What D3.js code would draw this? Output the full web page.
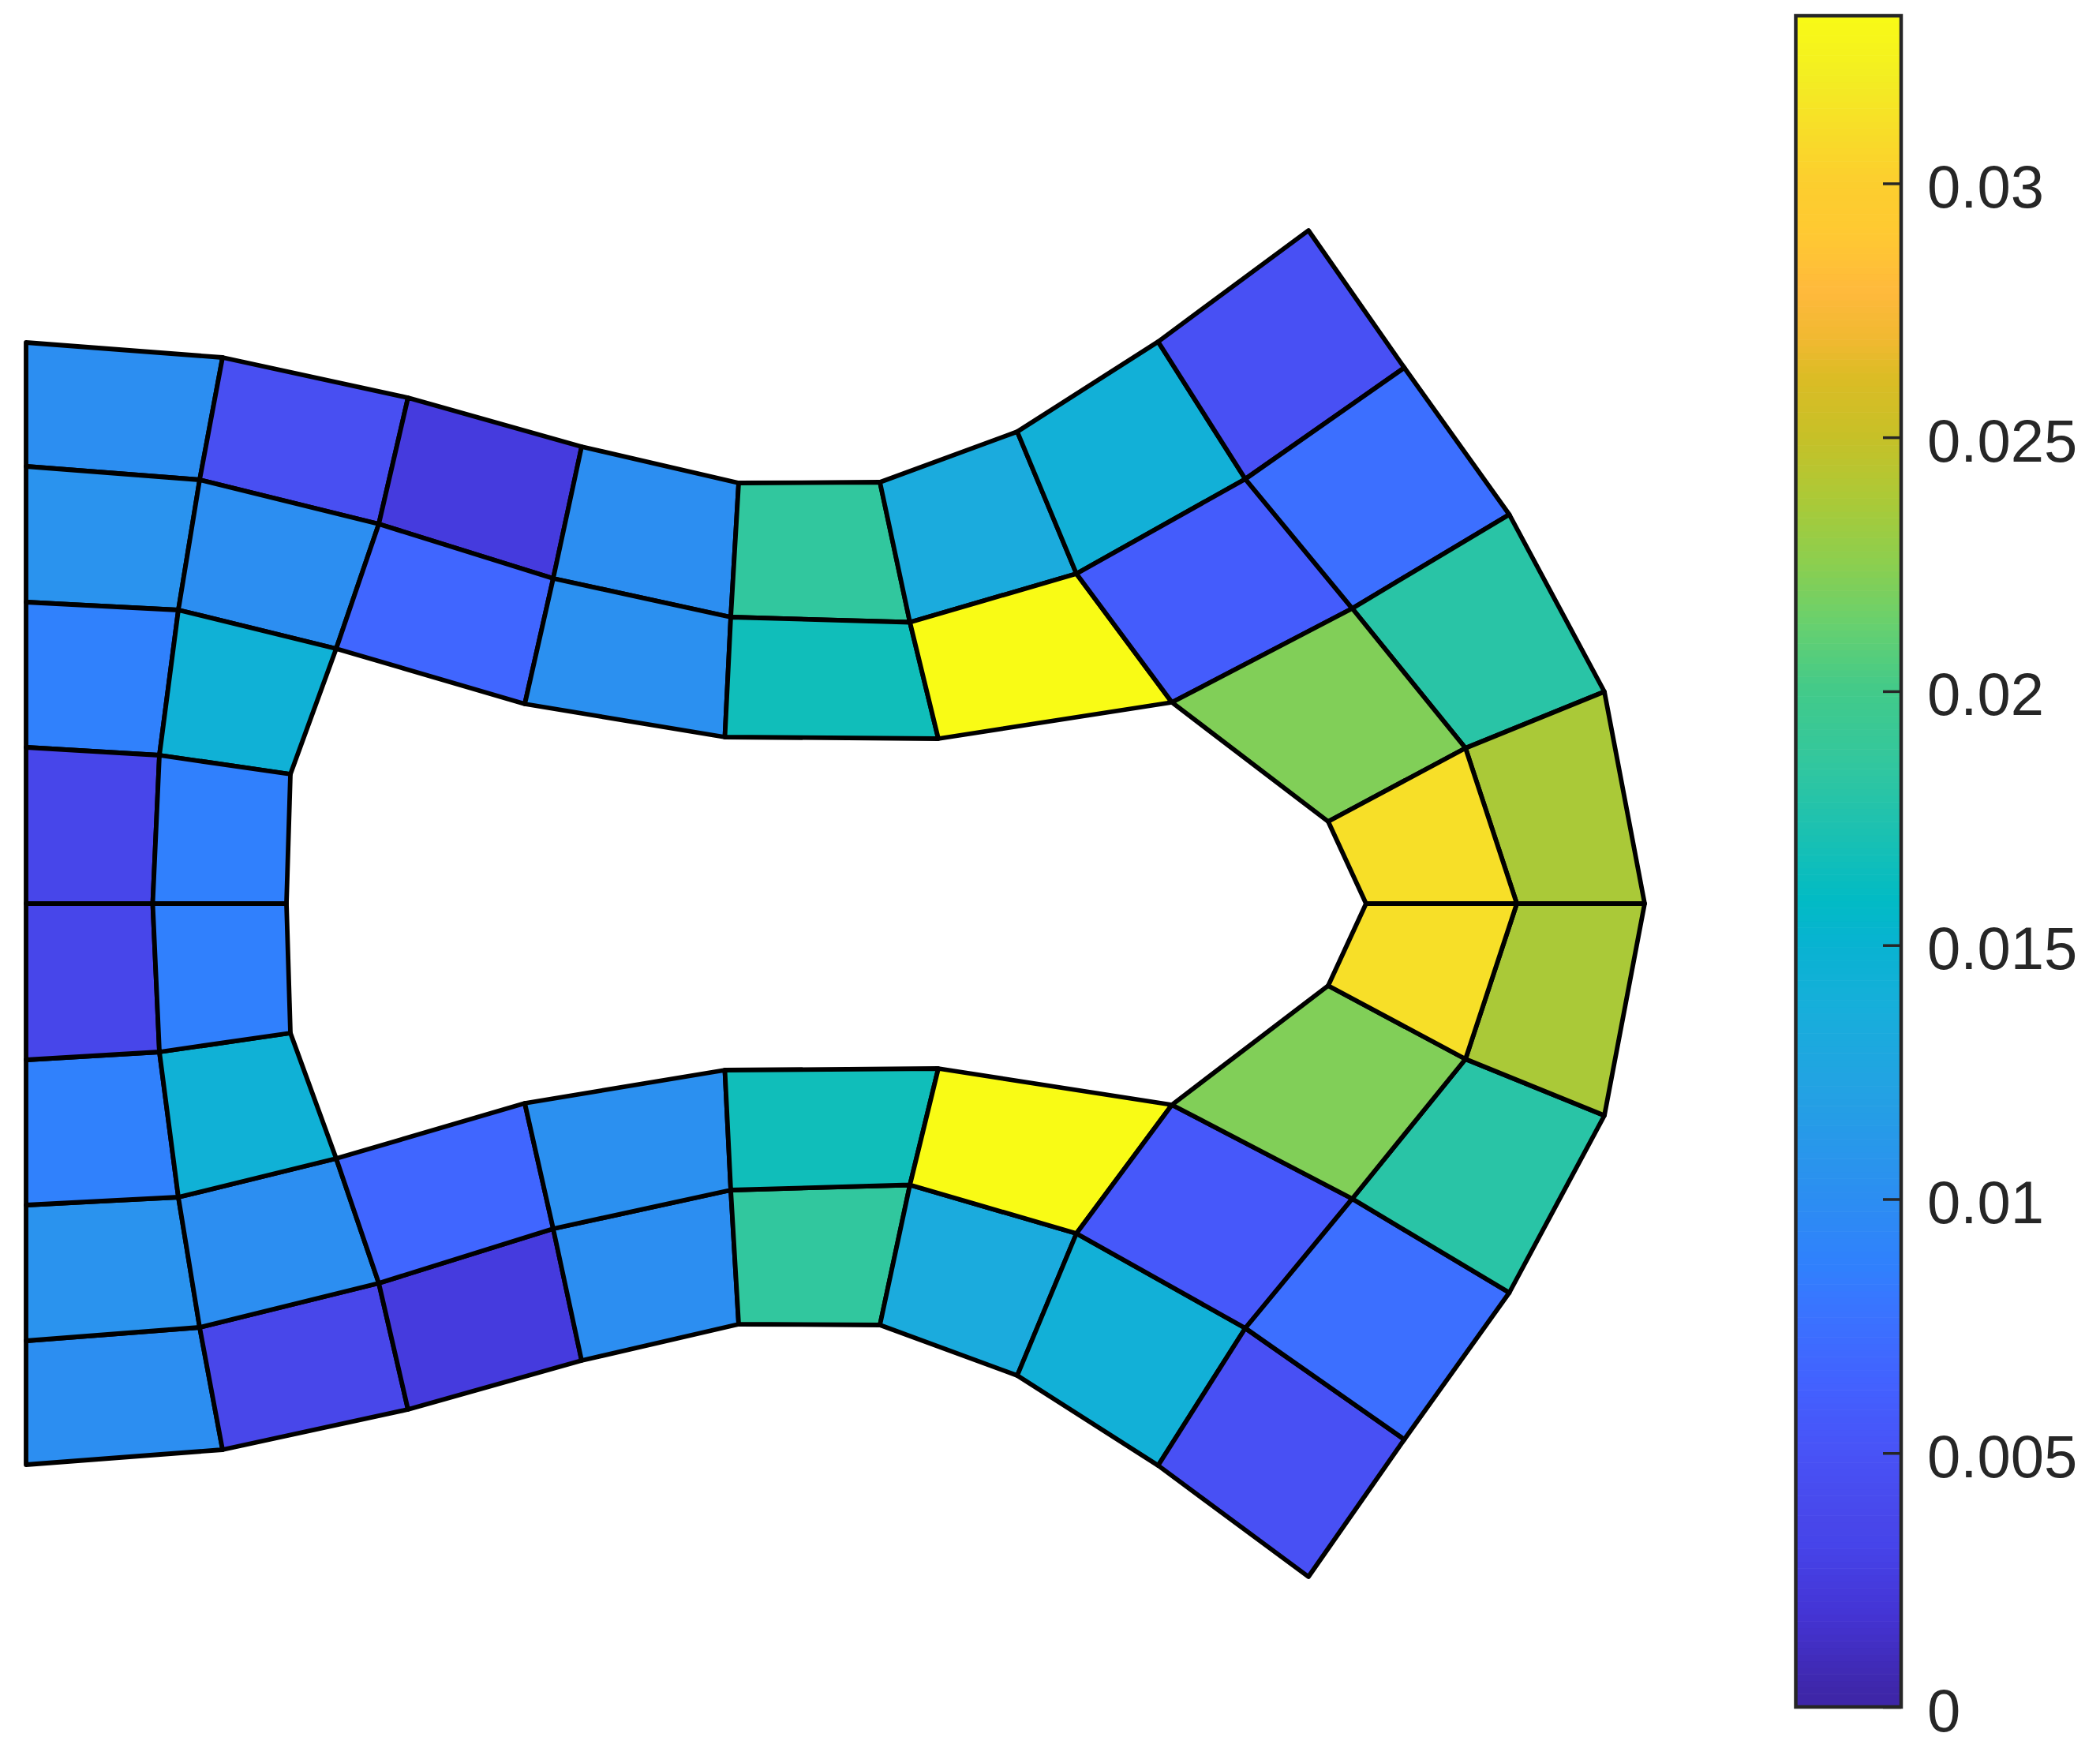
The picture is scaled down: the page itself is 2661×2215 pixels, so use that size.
<!DOCTYPE html>
<html><head><meta charset="utf-8">
<style>html,body{margin:0;padding:0;background:#fff}svg{display:block}</style>
<script src="https://cdn.jsdelivr.net/npm/d3@7"></script>
</head><body><svg id="c" width="2661" height="2215"></svg>
<script>
// Mesh nodes of the upper half (mesh units); the lower half uses the same nodes below y = 0
const nodeIds = ["A0","A1","A2","A3","A4","B0","B1","B2","B3","B4","C3","C4","D0","D1","D2","E0","E1","E2","F0","F1","F2","G0","G1","G2","H0","H1","H2","I0","I1","I2","J0","J1","J2","K1","K2","L","M0","M1","N"];
const nodeX = [0,0,0,0,0,2.49,2.20,1.93,1.69,1.605,3.35,3.30,4.84,4.47,3.93,7.04,6.68,6.32,9.03,8.93,8.855,10.82,11.20,11.56,12.56,13.31,14.52,14.345,15.45,16.805,16.25,17.465,18.795,18.24,20.00,16.50,16.98,18.89,20.51];
const nodeY = [7.11,5.54,3.82,1.98,0,6.92,5.37,3.72,1.88,0,1.64,0,6.41,4.81,3.23,5.79,4.12,2.53,5.33,3.63,2.11,5.34,3.565,2.09,5.98,4.18,2.55,7.12,5.38,3.74,8.53,6.79,4.93,1.97,2.685,1.04,0,0,0];
const cells = [
 ["A0","B0","B1","A1"],["A1","B1","B2","A2"],["A2","B2","B3","A3"],["A3","B3","B4","A4"],
 ["B0","D0","D1","B1"],["B1","D1","D2","B2"],["B2","D2","C3","B3"],["B3","C3","C4","B4"],
 ["D0","E0","E1","D1"],["D1","E1","E2","D2"],
 ["E0","F0","F1","E1"],["E1","F1","F2","E2"],
 ["F0","G0","G1","F1"],["F1","G1","G2","F2"],
 ["G0","H0","H1","G1"],["G1","H1","H2","G2"],
 ["H0","I0","I1","H1"],["H1","I1","I2","H2"],
 ["I0","J0","J1","I1"],["I1","J1","J2","I2"],
 ["I2","J2","K2","K1"],["H2","I2","K1","L"],
 ["K1","K2","N","M1"],["L","K1","M1","M0"]
];
const upperValues = [0.0100,0.0105,0.0087,0.0034,0.0045,0.0100,0.0143,0.0086,0.0024,0.0067,0.0100,0.0102,0.0185,0.0166,0.0132,0.0333,0.0141,0.0058,0.0047,0.0074,0.0180,0.0221,0.0237,0.0311];
const lowerValues = [0.0100,0.0105,0.0087,0.0034,0.0036,0.0100,0.0143,0.0086,0.0024,0.0067,0.0100,0.0102,0.0185,0.0166,0.0132,0.0333,0.0141,0.0055,0.0047,0.0074,0.0180,0.0221,0.0237,0.0311];
// Colormap
const cmapValues = [0,0.0002,0.00176,0.00315,0.0036,0.005,0.00637,0.008,0.0086,0.01,0.0119,0.0136,0.015,0.0158,0.01748,0.0186,0.02,0.0212,0.0224,0.0236,0.025,0.02615,0.0268,0.0278,0.02894,0.03,0.03205,0.0333];
const cmapColors = ["#3e26a8","#3e26a8","#4434d4","#4644ea","#4847ea","#4853f7","#4262ff","#3877ff","#3080fd","#2c8ef1","#24a0e4","#18aedb","#08b3d1","#01bbc5","#21c2ad","#33c79d","#43ca89","#66d070","#8acf50","#a8ca39","#c8c027","#dcbc25","#efb930","#ffb93c","#ffc932","#fcce2e","#f3ee22","#f9fb15"];
const barMax = 0.0333;
const tickValues = [0,0.005,0.01,0.015,0.02,0.025,0.03];
const tickLabels = ["0","0.005","0.01","0.015","0.02","0.025","0.03"];

const svg = d3.select("#c");
const x = d3.scaleLinear().domain([0,20.51]).range([33,2084]);
const y = d3.scaleLinear().domain([-7.11,7.11]).range([1856,434]);
const color = d3.scaleLinear().domain(cmapValues).range(cmapColors).clamp(true);
const idx = new Map(nodeIds.map((d,i)=>[d,i]));
const pts = (c,s)=>c.map(n=>{const i=idx.get(n);return [x(nodeX[i]),y(s*nodeY[i])].join(",")}).join(" ");
const mesh = svg.append("g");
[[1,upperValues],[-1,lowerValues]].forEach(([s,vals])=>{
  mesh.selectAll(null).data(cells).enter().append("polygon")
    .attr("points",d=>pts(d,s))
    .attr("fill",(d,i)=>color(vals[i]))
    .attr("stroke","#000").attr("stroke-width",5.8).attr("stroke-linejoin","round");
});
// Colour bar
const cy = d3.scaleLinear().domain([0,barMax]).range([2163,20]);
const barL=2275.5, barR=2409;
const steps = d3.range(256).map(i=>i/256*barMax);
svg.append("g").selectAll("rect").data(steps).enter().append("rect")
  .attr("x",barL).attr("width",barR-barL)
  .attr("y",d=>cy(d+barMax/256)).attr("height",d=>cy(d)-cy(d+barMax/256)+0.6)
  .attr("fill",d=>color(d));
const axis = d3.axisRight(cy).tickValues(tickValues).tickSizeInner(-23).tickSizeOuter(0).tickPadding(33)
  .tickFormat((d,i)=>tickLabels[i]);
const ag = svg.append("g").attr("transform",`translate(${barR},0)`).call(axis);
ag.select(".domain").remove();
ag.selectAll("line").attr("stroke","#262626").attr("stroke-width",3.5);
ag.selectAll("text").attr("fill","#262626").attr("dy",null).attr("y",30)
  .style("font-family","'Liberation Sans',Arial,sans-serif").style("font-size","76px");
svg.append("rect").attr("x",barL).attr("y",20).attr("width",barR-barL).attr("height",2143)
  .attr("fill","none").attr("stroke","#262626").attr("stroke-width",4.5);
</script></body></html>
